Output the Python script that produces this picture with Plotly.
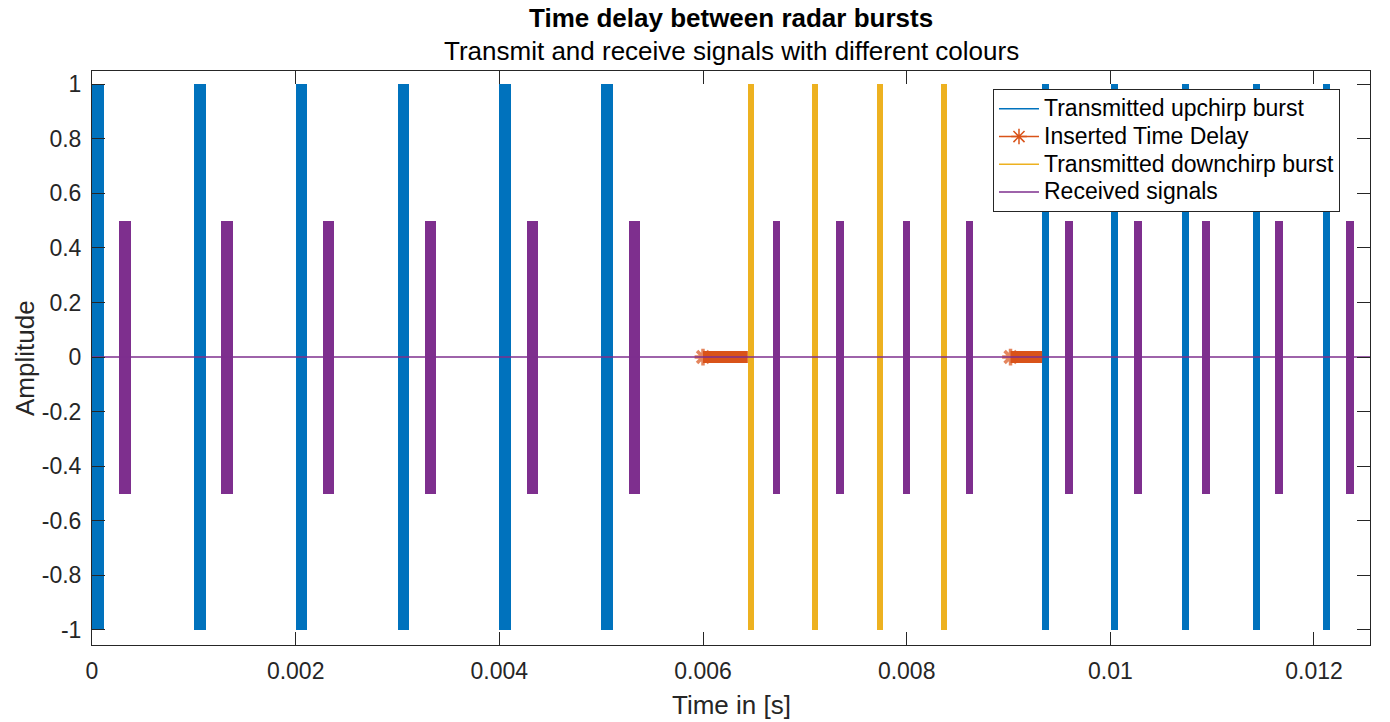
import plotly.graph_objects as go

# ---------------- data ----------------
# Transmitted upchirp bursts (start time [s], duration [s]), amplitude 1
up_start = [0.0, 0.001, 0.002, 0.003, 0.004, 0.005,
            0.00933, 0.01001, 0.0107, 0.0114, 0.01209]
up_width = [0.000115, 0.000115, 0.000115, 0.000115, 0.000115, 0.000115,
            0.00007, 0.00007, 0.00007, 0.00007, 0.00007]
up_amp = 1.0

# Transmitted downchirp bursts
down_start = [0.00644, 0.00707, 0.00771, 0.00834]
down_width = [0.00006, 0.00006, 0.00006, 0.00006]
down_amp = 1.0

# Received signals
rx_start = [0.00027, 0.00127, 0.00227, 0.00327, 0.00427, 0.00527,
            0.00669, 0.00731, 0.00796, 0.00858,
            0.00955, 0.01023, 0.0109, 0.01162, 0.01231]
rx_width = [0.00011] * 6 + [0.00007] * 4 + [0.00008] * 5
rx_amp = 0.5

# Inserted time delays (start, end)
delay_start = [0.006, 0.00902]
delay_end = [0.00644, 0.00933]

# Signal time span
t_span = [0.0, 0.01255]

x_tickvals = [0, 0.002, 0.004, 0.006, 0.008, 0.01, 0.012]
x_ticktext = ["0", "0.002", "0.004", "0.006", "0.008", "0.01", "0.012"]
y_tickvals = [-1, -0.8, -0.6, -0.4, -0.2, 0, 0.2, 0.4, 0.6, 0.8, 1]
y_ticktext = ["-1", "-0.8", "-0.6", "-0.4", "-0.2", "0", "0.2", "0.4", "0.6", "0.8", "1"]

legend_names = ["Transmitted upchirp burst", "Inserted Time Delay",
                "Transmitted downchirp burst", "Received signals"]

# ---------------- styling ----------------
BLUE = "#0072BD"
ORANGE = "#D95319"
YELLOW = "#EDB120"
PURPLE = "#7E2F8E"
AXC = "#262626"
FONT = "Liberation Sans, Arial, Helvetica, sans-serif"

fig = go.Figure()


def bursts(starts, widths, amp, color, name):
    centers = [s + w / 2 for s, w in zip(starts, widths)]
    fig.add_trace(go.Bar(
        x=centers, y=[2 * amp] * len(starts), base=[-amp] * len(starts),
        width=widths, marker=dict(color=color, line=dict(width=0)),
        showlegend=False, name=name, hoverinfo="skip"))


bursts(up_start, up_width, up_amp, BLUE, legend_names[0])
bursts(down_start, down_width, down_amp, YELLOW, legend_names[2])
bursts(rx_start, rx_width, rx_amp, PURPLE, legend_names[3])

# Inserted delays: dense asterisk band
for s, e in zip(delay_start, delay_end):
    fig.add_trace(go.Scatter(
        x=[s, e], y=[0, 0], mode="lines+markers",
        line=dict(color=ORANGE, width=12),
        marker=dict(symbol="asterisk-open", size=[14, 0],
                    line=dict(color=ORANGE, width=3.5)),
        showlegend=False, hoverinfo="skip"))

# Received signal zero line on top
fig.add_trace(go.Scatter(x=t_span, y=[0, 0], mode="lines",
                         line=dict(color=PURPLE, width=1.5),
                         showlegend=False, hoverinfo="skip"))


def lname(n):
    return "<span style='font-size:23px'>" + n + "</span>"


# Legend entries
fig.add_trace(go.Scatter(x=[None], y=[None], mode="lines",
                         line=dict(color=BLUE, width=1.5),
                         name=lname(legend_names[0])))
fig.add_trace(go.Scatter(x=[None], y=[None], mode="lines+markers",
                         line=dict(color=ORANGE, width=1.5),
                         marker=dict(symbol="asterisk-open", size=13,
                                     line=dict(color=ORANGE, width=1.5)),
                         name=lname(legend_names[1])))
fig.add_trace(go.Scatter(x=[None], y=[None], mode="lines",
                         line=dict(color=YELLOW, width=1.5),
                         name=lname(legend_names[2])))
fig.add_trace(go.Scatter(x=[None], y=[None], mode="lines",
                         line=dict(color=PURPLE, width=1.5),
                         name=lname(legend_names[3])))

axis_common = dict(showgrid=False, zeroline=False, showline=True,
                   linecolor=AXC, linewidth=1, mirror="ticks",
                   ticks="inside", ticklen=13, tickcolor=AXC, tickwidth=1,
                   tickfont=dict(family=FONT, size=23, color=AXC))

fig.update_layout(
    width=1390, height=722,
    margin=dict(l=92, r=20, t=71, b=77),
    plot_bgcolor="white", paper_bgcolor="white",
    barmode="overlay", bargap=0,
    font=dict(family=FONT, color=AXC),
    xaxis=dict(range=t_span, tickmode="array", tickvals=x_tickvals,
               ticktext=x_ticktext, ticklabelstandoff=5, **axis_common),
    yaxis=dict(range=[-1.055, 1.048], tickmode="array", tickvals=y_tickvals,
               ticktext=y_ticktext, ticklabelstandoff=5, **axis_common),
    legend=dict(x=0.705, y=0.9686, xanchor="left", yanchor="top",
                bgcolor="white", bordercolor=AXC, borderwidth=1,
                font=dict(family=FONT, size=19, color="black"),
                itemwidth=40,
                traceorder="normal", tracegroupgap=0),
    annotations=[
        dict(text="<b>Time delay between radar bursts</b>", xref="paper", yref="paper",
             x=0.5, y=1, yshift=53, showarrow=False, yanchor="middle",
             font=dict(family=FONT, size=26, color="black")),
        dict(text="Transmit and receive signals with different colours", xref="paper",
             yref="paper", x=0.5, y=1, yshift=20, showarrow=False, yanchor="middle",
             font=dict(family=FONT, size=26, color="black")),
        dict(text="Time in [s]", xref="paper", yref="paper", x=0.5, y=0, yshift=-60,
             showarrow=False, yanchor="middle",
             font=dict(family=FONT, size=26, color=AXC)),
        dict(text="Amplitude", xref="paper", yref="paper", x=0, y=0.5, xshift=-67,
             showarrow=False, xanchor="center", yanchor="middle", textangle=-90,
             font=dict(family=FONT, size=26, color=AXC)),
    ],
)

fig.write_html("out.html")
